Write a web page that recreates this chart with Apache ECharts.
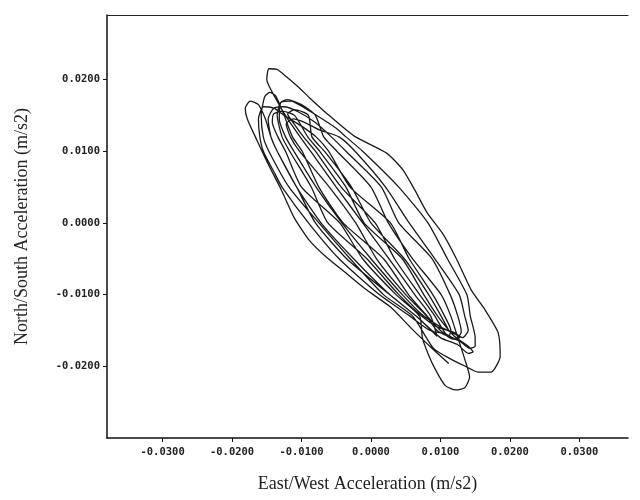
<!DOCTYPE html>
<html>
<head>
<meta charset="utf-8">
<script src="https://cdn.jsdelivr.net/npm/echarts@6/dist/echarts.min.js"></script>
<style>
  html, body { margin: 0; padding: 0; background: #fff; }
  #chart { width: 640px; height: 500px; }
</style>
</head>
<body>
<div id="chart"></div>
<script>
// tick labels
var xTicks = [-0.03, -0.02, -0.01, 0, 0.01, 0.02, 0.03];
var yTicks = [-0.02, -0.01, 0, 0.01, 0.02];

var loop1 = [[0.0112,-0.0196],[0.0087,-0.0174],[0.0057,-0.0146],[0.0029,-0.0118],[-0.0007,-0.0093],[-0.0036,-0.0070],[-0.0064,-0.0048],[-0.0089,-0.0024],[-0.0111,0.0008],[-0.0129,0.0046],[-0.0147,0.0080],[-0.0164,0.0115],[-0.0178,0.0145],[-0.0181,0.0160],[-0.0174,0.0170],[-0.0162,0.0165],
    [-0.0152,0.0145],[-0.0144,0.0120],[-0.0135,0.0100],[-0.0107,0.0050],[-0.0072,0.0000],[-0.0025,-0.0050],[0.0027,-0.0100],[0.0065,-0.0130],[0.0095,-0.0158]];
var loop2 = [[0.0086,-0.0130],[0.0063,-0.0100],[0.0026,-0.0050],[-0.0012,0.0000],[-0.0050,0.0050],[-0.0087,0.0100],[-0.0102,0.0120],[-0.0120,0.0145],[-0.0138,0.0175],[-0.0150,0.0200],[-0.0147,0.0215],[-0.0135,0.0214],[-0.0123,0.0205],
    [-0.0105,0.0190],[-0.0089,0.0175],[-0.0064,0.0153],[-0.0024,0.0121],[0.0023,0.0097],[0.0046,0.0074],[0.0063,0.0046],[0.0081,0.0014],[0.0104,-0.0016],[0.0124,-0.0052],[0.0144,-0.0093],[0.0164,-0.0121],[0.0183,-0.0153],[0.0186,-0.0186],[0.0173,-0.0208],[0.0154,-0.0208],[0.0136,-0.0200],[0.0115,-0.0190]];
var loop3 = [[0.0090,-0.0175],[0.0060,-0.0130],[0.0018,-0.0100],[-0.0030,-0.0050],[-0.0075,0.0000],[-0.0118,0.0050],[-0.0147,0.0100],[-0.0155,0.0120],[-0.0158,0.0150],[-0.0153,0.0176],[-0.0146,0.0182],[-0.0137,0.0177],
    [-0.0125,0.0150],[-0.0113,0.0120],[-0.0099,0.0100],[-0.0075,0.0050],[-0.0040,0.0000],[0.0018,-0.0050],[0.0054,-0.0100],[0.0081,-0.0130],[0.0100,-0.0150],[0.0118,-0.0162],[0.0128,-0.0160]];
var loop4 = [[0.0100,-0.0145],[0.0076,-0.0130],[0.0045,-0.0100],[0.0000,-0.0050],[-0.0042,0.0000],[-0.0079,0.0050],[-0.0111,0.0100],[-0.0123,0.0120],[-0.0132,0.0145],[-0.0130,0.0168],[-0.0120,0.0172],[-0.0100,0.0165],[-0.0080,0.0150],
    [-0.0068,0.0120],[-0.0049,0.0100],[0.0000,0.0050],[0.0025,0.0000],[0.0060,-0.0050],[0.0101,-0.0100],[0.0115,-0.0130],[0.0125,-0.0160],[0.0135,-0.0190],[0.0142,-0.0215],[0.0135,-0.0230],[0.0122,-0.0233],[0.0107,-0.0227],[0.0093,-0.0205],[0.0082,-0.0182]];
var loop5 = [[0.0074,-0.0160],[0.0070,-0.0130],[0.0036,-0.0100],[-0.0012,-0.0050],[-0.0045,0.0000],[-0.0100,0.0050],[-0.0123,0.0100],[-0.0134,0.0120],[-0.0142,0.0140],[-0.0140,0.0152],[-0.0128,0.0156],[-0.0110,0.0150],
    [-0.0091,0.0120],[-0.0074,0.0100],[-0.0036,0.0050],[-0.0010,0.0000],[0.0045,-0.0050],[0.0076,-0.0100],[0.0096,-0.0130],[0.0120,-0.0158],[0.0140,-0.0172],[0.0147,-0.0180],[0.0140,-0.0182],[0.0125,-0.0170]];
var loop6 = [[0.0100,-0.0160],[0.0065,-0.0130],[0.0027,-0.0100],[-0.0035,-0.0050],[-0.0080,0.0000],[-0.0107,0.0050],[-0.0135,0.0100],[-0.0144,0.0120],[-0.0148,0.0145],[-0.0140,0.0160],[-0.0125,0.0162],[-0.0105,0.0155],[-0.0080,0.0140],
    [-0.0057,0.0120],[-0.0036,0.0100],[0.0015,0.0050],[0.0040,0.0000],[0.0088,-0.0050],[0.0114,-0.0100],[0.0125,-0.0130],[0.0130,-0.0152],[0.0122,-0.0162],[0.0108,-0.0155]];
var loop7 = [[0.0085,-0.0150],[0.0056,-0.0130],[0.0012,-0.0100],[-0.0046,-0.0050],[-0.0090,0.0000],[-0.0128,0.0050],[-0.0138,0.0068],[-0.0155,0.0100],[-0.0160,0.0120],[-0.0162,0.0145],[-0.0155,0.0162],[-0.0140,0.0160],[-0.0125,0.0150],
    [-0.0100,0.0135],[-0.0079,0.0120],[-0.0061,0.0100],[-0.0030,0.0050],[0.0028,0.0000],[0.0055,-0.0050],[0.0089,-0.0100],[0.0106,-0.0130],[0.0115,-0.0150],[0.0112,-0.0158]];
var loop8 = [[0.0095,-0.0150],[0.0080,-0.0130],[0.0050,-0.0100],[0.0008,-0.0050],[-0.0022,0.0000],[-0.0060,0.0050],[-0.0103,0.0100],[-0.0116,0.0120],[-0.0122,0.0138],[-0.0112,0.0145],[-0.0095,0.0140],[-0.0075,0.0130],
    [-0.0046,0.0120],[-0.0023,0.0100],[0.0021,0.0050],[0.0055,0.0000],[0.0092,-0.0050],[0.0127,-0.0100],[0.0135,-0.0130],[0.0140,-0.0150],[0.0132,-0.0160],[0.0118,-0.0152]];
var loop9 = [[0.0095,-0.0145],[0.0073,-0.0130],[0.0040,-0.0100],[-0.0006,-0.0050],[-0.0062,0.0000],[-0.0086,0.0050],[-0.0117,0.0100],[-0.0128,0.0120],[-0.0135,0.0150],[-0.0130,0.0168],[-0.0115,0.0170],[-0.0095,0.0160],[-0.0070,0.0145],[-0.0050,0.0132],
    [-0.0036,0.0120],[-0.0012,0.0100],[0.0040,0.0050],[0.0082,0.0000],[0.0110,-0.0050],[0.0138,-0.0100],[0.0143,-0.0130],[0.0150,-0.0160],[0.0150,-0.0172],[0.0142,-0.0175],[0.0128,-0.0165]];
var loop10 = [[0.0110,-0.0158],[0.0092,-0.0130],[0.0070,-0.0100],[0.0034,-0.0050],[0.0006,0.0000],[-0.0043,0.0050],[-0.0080,0.0100],[-0.0097,0.0120],[-0.0112,0.0140],[-0.0120,0.0152],[-0.0110,0.0158],[-0.0090,0.0150],
    [-0.0085,0.0120],[-0.0067,0.0100],[-0.0028,0.0050],[0.0000,0.0000],[0.0048,-0.0050],[0.0083,-0.0100],[0.0101,-0.0130],[0.0112,-0.0150]];

var orbit = [].concat(loop1, loop2, loop3, loop4, loop5, loop6, loop7, loop8, loop9, loop10);

var tickFont = {
    fontFamily: 'DejaVu Sans Mono',
    fontSize: 10.5,
    fontWeight: 'bold',
    color: '#222'
};
var nameFont = {
    fontFamily: 'Liberation Serif',
    fontSize: 18,
    color: '#222'
};
var fmt = function (v) { return v.toFixed(4); };

var myChart = echarts.init(document.getElementById('chart'));
myChart.setOption({
    backgroundColor: '#fff',
    animation: false,
    grid: { left: 107, right: 12, top: 15, bottom: 62 },
    xAxis: [
        {
            type: 'value',
            min: -0.038,
            max: 0.037,
            name: 'East/West Acceleration (m/s2)',
            nameLocation: 'middle',
            nameGap: 37,
            nameTextStyle: nameFont,
            axisLine: { onZero: false, lineStyle: { color: '#111', width: 1.5 } },
            axisTick: { customValues: xTicks, length: 4, lineStyle: { color: '#111' } },
            axisLabel: Object.assign({ customValues: xTicks, margin: 9, formatter: fmt }, tickFont),
            splitLine: { show: false }
        },
        {
            type: 'value',
            position: 'top',
            min: -0.038,
            max: 0.037,
            axisLine: { show: true, onZero: false, lineStyle: { color: '#222', width: 1.2 } },
            axisTick: { show: false },
            axisLabel: { show: false },
            splitLine: { show: false }
        }
    ],
    yAxis: {
        type: 'value',
        min: -0.03,
        max: 0.029,
        name: 'North/South Acceleration (m/s2)',
        nameLocation: 'middle',
        nameGap: 76,
        nameTextStyle: nameFont,
        axisLine: { show: true, onZero: false, lineStyle: { color: '#111', width: 1.5 } },
        axisTick: { show: true, customValues: yTicks, length: 4, lineStyle: { color: '#111' } },
        axisLabel: Object.assign({ customValues: yTicks, margin: 7, formatter: fmt }, tickFont),
        splitLine: { show: false }
    },
    series: [
        {
            type: 'line',
            data: orbit,
            smooth: 0.2,
            showSymbol: false,
            lineStyle: { color: '#1a1a1a', width: 1.3 }
        }
    ]
});
</script>
</body>
</html>
